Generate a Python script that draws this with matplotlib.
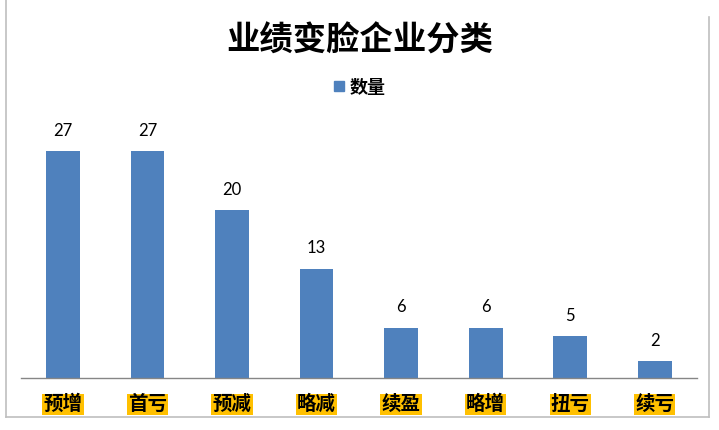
import matplotlib
matplotlib.use("Agg")
import matplotlib.pyplot as plt
from matplotlib.lines import Line2D

plt.rcParams['font.family'] = ['Noto Sans CJK SC', 'DejaVu Sans']

# data
categories = ["预增", "首亏", "预减", "略减", "续盈", "略增", "扭亏", "续亏"]
counts = [27, 27, 20, 13, 6, 6, 5, 2]
series_name = "数量"
title = "业绩变脸企业分类"

bar_color = "#4F81BD"

fig = plt.figure(figsize=(7.19, 4.30), dpi=100)
ax = fig.add_axes([0.0288, 0.1209, 0.9406, 0.586])

x = range(len(categories))
bars = ax.bar(x, counts, width=0.4, color=bar_color, label=series_name)

for xi, v in zip(x, counts):
    ax.annotate(str(v), (xi, v), xytext=(0, 9), textcoords="offset points",
                ha="center", va="bottom", fontsize=12, family=["Lato", "DejaVu Sans"])

ax.set_xlim(-0.5, len(categories) - 0.5)
ax.set_ylim(0, 30)
ax.set_yticks([])
for s in ["top", "left", "right"]:
    ax.spines[s].set_visible(False)
ax.spines["bottom"].set_color("#868686")
ax.spines["bottom"].set_linewidth(1)

ax.set_xticks(list(x))
ax.set_xticklabels(categories, fontsize=14, fontweight="bold")
ax.tick_params(axis="x", length=0, pad=12)
for lab in ax.get_xticklabels():
    lab.set_bbox(dict(facecolor="#FFC000", edgecolor="none", pad=0.8))

fig.text(0.5, 0.905, title, ha="center", va="center", fontsize=24, fontweight="bold")

leg = fig.legend(handles=[Line2D([], [], marker="s", color="none", markerfacecolor=bar_color,
                                 markeredgecolor=bar_color, markersize=7)],
                 labels=[series_name], loc="center", bbox_to_anchor=(0.5, 0.797),
                 frameon=False, handlelength=0.6, handletextpad=0.3,
                 prop={"weight": "bold", "size": 13})

# chart border (left, right, bottom)
fig.add_artist(Line2D([0.009, 0.009], [0.03, 1.0], color="#BFBFBF", lw=1.2, transform=fig.transFigure))
fig.add_artist(Line2D([0.986, 0.986], [0.03, 0.96], color="#BFBFBF", lw=1.2, transform=fig.transFigure))
fig.add_artist(Line2D([0.009, 0.986], [0.03, 0.03], color="#BFBFBF", lw=1.2, transform=fig.transFigure))

fig.savefig("out.png", dpi=100)
